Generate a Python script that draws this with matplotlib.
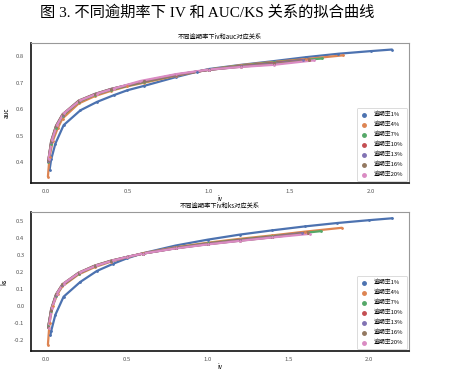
import matplotlib
matplotlib.use("Agg")
import matplotlib.pyplot as plt

plt.rcParams['font.family'] = ['Noto Sans CJK SC', 'DejaVu Sans']
plt.rcParams['axes.unicode_minus'] = False

# 逾期率标签 / 颜色 (seaborn deep)
labels = ["逾期率1%", "逾期率4%", "逾期率7%", "逾期率10%", "逾期率13%", "逾期率16%", "逾期率20%"]
colors = ["#4C72B0", "#DD8452", "#55A868", "#C44E52", "#8172B3", "#937860", "#DA8BC3"]

# iv -> auc
auc_iv = [
    [0.02, 0.03, 0.056, 0.107, 0.21, 0.313, 0.415, 0.5, 0.6, 0.8, 0.93, 1.0, 1.2, 1.4, 1.6, 1.8, 2.0, 2.13],
    [0.01, 0.02, 0.04, 0.07, 0.1, 0.2, 0.3, 0.4, 0.5, 0.6, 0.8, 1.0, 1.2, 1.4, 1.6, 1.83],
    [0.012, 0.03, 0.06, 0.1, 0.2, 0.3, 0.4, 0.6, 0.8, 1.0, 1.2, 1.4, 1.7],
    [0.012, 0.03, 0.06, 0.1, 0.2, 0.3, 0.4, 0.6, 0.8, 1.0, 1.2, 1.4, 1.62],
    [0.013, 0.03, 0.06, 0.1, 0.2, 0.3, 0.4, 0.6, 0.8, 1.0, 1.2, 1.4, 1.58],
    [0.013, 0.03, 0.06, 0.1, 0.2, 0.3, 0.4, 0.6, 0.8, 1.0, 1.2, 1.4, 1.62],
    [0.014, 0.035, 0.066, 0.107, 0.21, 0.313, 0.415, 0.58, 0.8, 1.0, 1.2, 1.4, 1.65],
]
auc_val = [
    [0.37, 0.41, 0.47, 0.54, 0.596, 0.628, 0.653, 0.672, 0.688, 0.722, 0.742, 0.752, 0.768, 0.782, 0.797, 0.81, 0.82, 0.826],
    [0.345, 0.42, 0.48, 0.528, 0.565, 0.622, 0.65, 0.67, 0.687, 0.7, 0.727, 0.75, 0.767, 0.779, 0.79, 0.804],
    [0.40, 0.47, 0.53, 0.575, 0.628, 0.655, 0.674, 0.703, 0.729, 0.75, 0.765, 0.777, 0.792],
    [0.405, 0.475, 0.535, 0.578, 0.63, 0.657, 0.676, 0.705, 0.73, 0.749, 0.763, 0.775, 0.788],
    [0.405, 0.478, 0.537, 0.58, 0.632, 0.658, 0.677, 0.706, 0.731, 0.749, 0.762, 0.773, 0.785],
    [0.408, 0.48, 0.538, 0.581, 0.633, 0.658, 0.677, 0.706, 0.731, 0.749, 0.761, 0.771, 0.786],
    [0.41, 0.483, 0.54, 0.584, 0.634, 0.659, 0.678, 0.707, 0.733, 0.75, 0.76, 0.768, 0.785],
]

# iv -> ks
ks_iv = [
    [0.025, 0.03, 0.056, 0.107, 0.21, 0.313, 0.415, 0.5, 0.6, 0.8, 1.0, 1.2, 1.4, 1.6, 1.8, 2.0, 2.14],
    [0.01, 0.02, 0.04, 0.07, 0.1, 0.2, 0.3, 0.4, 0.5, 0.6, 0.8, 1.0, 1.2, 1.4, 1.6, 1.83],
    [0.012, 0.03, 0.06, 0.1, 0.2, 0.3, 0.4, 0.5, 0.6, 0.8, 1.0, 1.2, 1.4, 1.7],
    [0.012, 0.03, 0.06, 0.1, 0.2, 0.3, 0.4, 0.5, 0.6, 0.8, 1.0, 1.2, 1.4, 1.62],
    [0.013, 0.03, 0.06, 0.1, 0.2, 0.3, 0.4, 0.5, 0.6, 0.8, 1.0, 1.2, 1.4, 1.58],
    [0.013, 0.03, 0.06, 0.1, 0.2, 0.3, 0.4, 0.5, 0.6, 0.8, 1.0, 1.2, 1.4, 1.62],
    [0.014, 0.035, 0.066, 0.107, 0.21, 0.313, 0.415, 0.5, 0.6, 0.8, 1.0, 1.2, 1.4, 1.63],
]
ks_val = [
    [-0.175, -0.15, -0.054, 0.053, 0.14, 0.205, 0.248, 0.28, 0.31, 0.355, 0.39, 0.42, 0.445, 0.468, 0.488, 0.505, 0.516],
    [-0.23, -0.1, 0.0, 0.07, 0.115, 0.185, 0.228, 0.26, 0.287, 0.31, 0.345, 0.372, 0.395, 0.415, 0.437, 0.46],
    [-0.12, -0.03, 0.06, 0.12, 0.19, 0.233, 0.263, 0.287, 0.308, 0.342, 0.368, 0.39, 0.41, 0.44],
    [-0.125, -0.025, 0.063, 0.123, 0.192, 0.235, 0.264, 0.287, 0.308, 0.34, 0.366, 0.387, 0.407, 0.432],
    [-0.125, -0.022, 0.065, 0.125, 0.194, 0.236, 0.265, 0.288, 0.308, 0.339, 0.364, 0.385, 0.405, 0.428],
    [-0.128, -0.02, 0.067, 0.127, 0.195, 0.237, 0.266, 0.288, 0.308, 0.339, 0.363, 0.384, 0.404, 0.43],
    [-0.132, -0.015, 0.072, 0.131, 0.198, 0.238, 0.267, 0.288, 0.308, 0.338, 0.362, 0.383, 0.403, 0.424],
]


def draw_panel(ax, xs, ys, title, ylabel):
    for x, y, c, lab in zip(xs, ys, colors, labels):
        ax.plot(x, y, color=c, lw=1.6, solid_capstyle="round")
        ax.scatter(x, y, s=1.0, color=c, label=lab, zorder=3)
    ax.set_title(title, fontsize=4.5, pad=3)
    ax.set_xlabel("iv", fontsize=4.5, labelpad=0.5)
    ax.set_ylabel(ylabel, fontsize=4.5, labelpad=4)
    ax.tick_params(length=0, labelsize=4.3, labelcolor="#555555", pad=4.5)
    for s in ["left", "bottom"]:
        ax.spines[s].set_color("#111111")
        ax.spines[s].set_linewidth(1.2)
    for s in ["top", "right"]:
        ax.spines[s].set_color("#999999")
        ax.spines[s].set_linewidth(0.8)
    leg = ax.legend(loc="lower right", fontsize=4.2, markerscale=2.5, frameon=True,
                    labelspacing=0.75, borderpad=0.7, handletextpad=1.2,
                    borderaxespad=0.3, handlelength=1.0)
    leg.get_frame().set_edgecolor("#cccccc")
    leg.get_frame().set_linewidth(0.6)


fig = plt.figure(figsize=(4.49, 3.72), dpi=100)
ax1 = fig.add_axes([0.0684, 0.508, 0.843, 0.376])
ax2 = fig.add_axes([0.0684, 0.0565, 0.843, 0.3737])

draw_panel(ax1, auc_iv, auc_val, "不同逾期率下iv和auc对应关系", "auc")
draw_panel(ax2, ks_iv, ks_val, "不同逾期率下iv和ks对应关系", "ks")

fig.text(0.09, 0.985, "图 3. 不同逾期率下 IV 和 AUC/KS 关系的拟合曲线", ha="left", va="top",
         fontsize=11, family=["Liberation Serif", "Noto Sans CJK SC"])

fig.savefig("out.png", dpi=100)
